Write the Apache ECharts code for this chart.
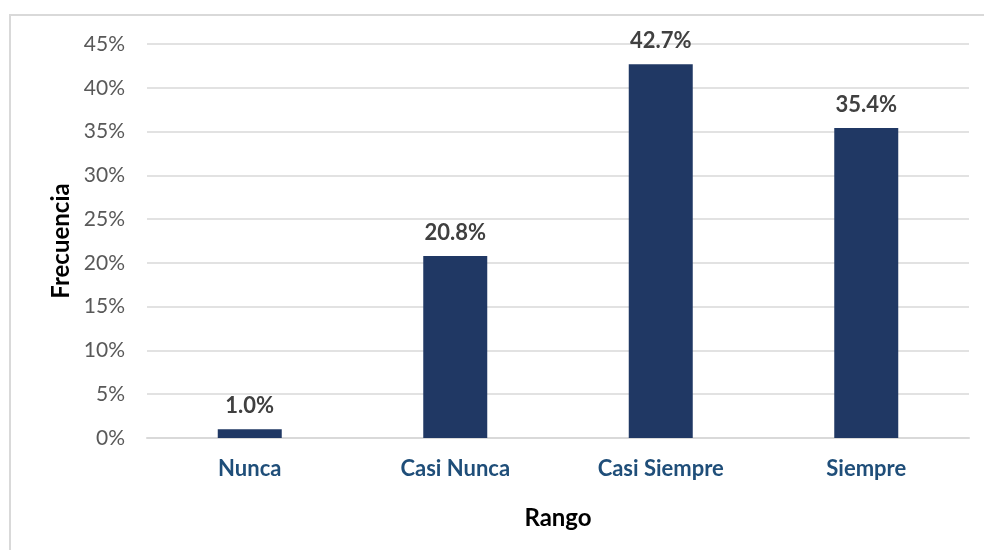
<!DOCTYPE html>
<html>
<head>
<meta charset="utf-8">
<script src="https://cdn.jsdelivr.net/npm/echarts@6/dist/echarts.min.js"></script>
<style>
  html, body { margin: 0; padding: 0; background: #fff; }
  #frame { position: absolute; left: 9px; top: 14px; width: 1000px; height: 560px; border: 2px solid #d9d9d9; box-sizing: border-box; }
  #chart { position: absolute; left: 0; top: 0; width: 984px; height: 550px; }
</style>
</head>
<body>
<div id="frame"></div>
<div id="chart"></div>
<script>
// Frequency distribution by response range
const categories = ['Nunca', 'Casi Nunca', 'Casi Siempre', 'Siempre'];
const frequencies = [1.0, 20.8, 42.7, 35.4];
const yTicks = [0, 5, 10, 15, 20, 25, 30, 35, 40, 45];

const FONT = 'Lato, "Open Sans", sans-serif';

const chart = echarts.init(document.getElementById('chart'), null, { renderer: 'canvas' });
chart.setOption({
  animation: false,
  grid: { left: 147, right: 15, top: 44, bottom: 112, containLabel: false },
  xAxis: {
    type: 'category',
    data: categories,
    name: 'Rango',
    nameLocation: 'middle',
    nameGap: 68,
    nameTextStyle: { fontFamily: FONT, fontSize: 24, fontWeight: 'bold', color: '#000' },
    axisLine: { lineStyle: { color: '#d9d9d9', width: 2 } },
    axisTick: { show: false },
    axisLabel: { fontFamily: FONT, fontSize: 22, fontWeight: 'bold', color: '#1f4e79', margin: 20 }
  },
  yAxis: {
    type: 'value',
    min: yTicks[0],
    max: yTicks[yTicks.length - 1],
    interval: 5,
    name: 'Frecuencia',
    nameLocation: 'middle',
    nameRotate: 90,
    nameGap: 72,
    nameTextStyle: { fontFamily: FONT, fontSize: 24, fontWeight: 'bold', color: '#000' },
    axisLine: { show: false },
    axisTick: { show: false },
    axisLabel: { fontFamily: FONT, fontSize: 21, color: '#595959', margin: 22, formatter: v => v + '%' },
    splitLine: { lineStyle: { color: '#d9d9d9', width: 1.5 } }
  },
  series: [{
    type: 'bar',
    data: frequencies,
    barWidth: 64,
    itemStyle: { color: '#203864' },
    label: {
      show: true,
      position: 'top',
      distance: 12,
      fontFamily: FONT,
      fontSize: 22,
      fontWeight: 'bold',
      color: '#404040',
      formatter: p => p.value.toFixed(1) + '%'
    }
  }]
});
</script>
</body>
</html>
